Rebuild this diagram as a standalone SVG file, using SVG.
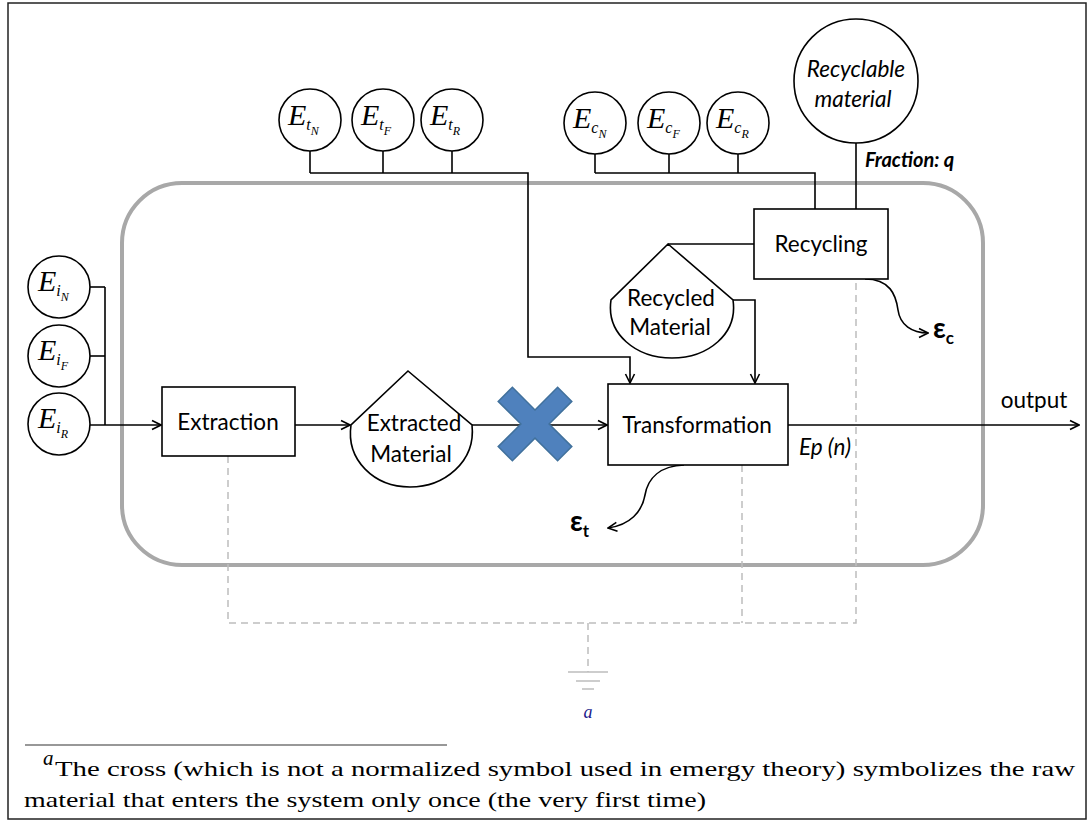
<svg xmlns="http://www.w3.org/2000/svg" width="1089" height="823" viewBox="0 0 1089 823">
<defs>
<style>
.lbl{font-family:Lato,"Open Sans","Liberation Sans",sans-serif;font-size:22.5px;fill:#000;text-anchor:middle}
.ital{font-style:italic}
.mth{font-family:"Liberation Serif","DejaVu Serif",serif;font-style:italic;fill:#000}
.ln{fill:none;stroke:#000;stroke-width:1.6}
.dash{fill:none;stroke:#bdbdbd;stroke-width:1.5;stroke-dasharray:7 5}
.node{fill:#fff;stroke:#000;stroke-width:1.6}
.eps{font-family:Lato,"Open Sans","Liberation Sans",sans-serif;font-weight:bold;fill:#000}
.foot{font-family:"Liberation Serif","DejaVu Serif",serif;font-size:21px;fill:#000}
</style>
<marker id="arr" viewBox="0 0 12 12" refX="11" refY="6" markerWidth="12" markerHeight="12" markerUnits="userSpaceOnUse" orient="auto">
<path d="M2,1.5 L11,6 L2,10.5" fill="none" stroke="#000" stroke-width="1.6"/>
</marker>
</defs>
<rect x="0" y="0" width="1089" height="823" fill="#fff"/>
<rect x="8" y="3" width="1078" height="816" fill="none" stroke="#222" stroke-width="1.5"/>
<rect id="system" x="122" y="183" width="861" height="382" rx="60" ry="60" fill="none" stroke="#a8a8a8" stroke-width="4"/>

<g id="connectors">
<line class="ln" x1="89" y1="287" x2="105" y2="287"/>
<line class="ln" x1="89" y1="356" x2="105" y2="356"/>
<line class="ln" x1="105" y1="287" x2="105" y2="425"/>
<line class="ln" x1="90" y1="425" x2="161" y2="425" marker-end="url(#arr)"/>
<line class="ln" x1="295" y1="425" x2="350" y2="425" marker-end="url(#arr)"/>
<line class="ln" x1="472" y1="425" x2="607" y2="425" marker-end="url(#arr)"/>
<line class="ln" x1="310" y1="150" x2="310" y2="173"/>
<line class="ln" x1="383" y1="150" x2="383" y2="173"/>
<line class="ln" x1="452" y1="150" x2="452" y2="173"/>
<path class="ln" d="M310,173 H528 V357 H630 V383" marker-end="url(#arr)"/>
<line class="ln" x1="595" y1="154" x2="595" y2="173"/>
<line class="ln" x1="669" y1="154" x2="669" y2="173"/>
<line class="ln" x1="738" y1="154" x2="738" y2="173"/>
<path class="ln" d="M595,173 H815 V209"/>
<line class="ln" x1="856" y1="143" x2="856" y2="209"/>
<line class="ln" x1="754" y1="244" x2="668" y2="244"/>
<path class="ln" d="M733,300 H755 V383" marker-end="url(#arr)"/>
<line class="ln" x1="788" y1="425" x2="1079" y2="425" marker-end="url(#arr)"/>
<path class="ln" d="M865,279 C890,279 896,295 898,310 C900,325 912,333 928,333" marker-end="url(#arr)"/>
<path class="ln" d="M684,465 C660,466 648,478 645,495 C642,512 630,525 608,528" marker-end="url(#arr)"/>
<path class="dash" d="M228,456 V623 H856 V279"/>
<line class="dash" x1="742" y1="465" x2="742" y2="623"/>
<line class="dash" x1="588" y1="623" x2="588" y2="672"/>
<line x1="568" y1="672" x2="608" y2="672" stroke="#bdbdbd" stroke-width="1.5"/>
<line x1="576" y1="681" x2="600" y2="681" stroke="#bdbdbd" stroke-width="1.5"/>
<line x1="582" y1="689" x2="594" y2="689" stroke="#bdbdbd" stroke-width="1.5"/>
</g>

<g id="Ei_N"><circle class="node" cx="59" cy="287" r="31"/>
<text class="mth" x="38" y="291" font-size="30">E<tspan font-size="16" dy="5">i</tspan><tspan font-size="12" dy="5">N</tspan></text></g>
<g id="Ei_F"><circle class="node" cx="59" cy="356" r="31"/>
<text class="mth" x="38" y="360" font-size="30">E<tspan font-size="16" dy="5">i</tspan><tspan font-size="12" dy="5">F</tspan></text></g>
<g id="Ei_R"><circle class="node" cx="59" cy="424" r="31"/>
<text class="mth" x="38" y="428" font-size="30">E<tspan font-size="16" dy="5">i</tspan><tspan font-size="12" dy="5">R</tspan></text></g>

<g id="Et_N"><circle class="node" cx="310" cy="120" r="31"/>
<text class="mth" x="288" y="125" font-size="30">E<tspan font-size="16" dy="5">t</tspan><tspan font-size="12" dy="5">N</tspan></text></g>
<g id="Et_F"><circle class="node" cx="383" cy="120" r="31"/>
<text class="mth" x="361" y="125" font-size="30">E<tspan font-size="16" dy="5">t</tspan><tspan font-size="12" dy="5">F</tspan></text></g>
<g id="Et_R"><circle class="node" cx="452" cy="120" r="31"/>
<text class="mth" x="430" y="125" font-size="30">E<tspan font-size="16" dy="5">t</tspan><tspan font-size="12" dy="5">R</tspan></text></g>

<g id="Ec_N"><circle class="node" cx="595" cy="123" r="31"/>
<text class="mth" x="573" y="128" font-size="30">E<tspan font-size="16" dy="5">c</tspan><tspan font-size="12" dy="5">N</tspan></text></g>
<g id="Ec_F"><circle class="node" cx="669" cy="123" r="31"/>
<text class="mth" x="647" y="128" font-size="30">E<tspan font-size="16" dy="5">c</tspan><tspan font-size="12" dy="5">F</tspan></text></g>
<g id="Ec_R"><circle class="node" cx="738" cy="123" r="31"/>
<text class="mth" x="716" y="128" font-size="30">E<tspan font-size="16" dy="5">c</tspan><tspan font-size="12" dy="5">R</tspan></text></g>

<g id="recyclable"><circle class="node" cx="856" cy="81" r="62"/>
<text class="lbl ital" x="856" y="77">Recyclable</text>
<text class="lbl ital" x="853" y="107">material</text></g>
<text id="fraction" x="865" y="167" font-family="Lato,'Open Sans','Liberation Sans',sans-serif" font-size="20" font-weight="bold" font-style="italic">Fraction: q</text>

<g id="extraction"><rect class="node" x="162" y="387" width="133" height="69"/>
<text class="lbl" x="228" y="430">Extraction</text></g>

<g id="extracted"><path class="node" d="M408,371 L472,425 C476,462 444,487 410,487 C374,487 346,460 351,425 Z"/>
<text class="lbl" x="414" y="431">Extracted</text>
<text class="lbl" x="411" y="462">Material</text></g>

<g id="cross"><polygon points="535,410 557.6,387.2 571.8,401.4 549.1,424 571.8,446.6 557.6,460.8 535,438.1 512.4,460.8 498.2,446.6 520.9,424 498.2,401.4 512.4,387.2" fill="#4f81bd" stroke="#41719c" stroke-width="1.5"/></g>

<g id="transformation"><rect class="node" x="608" y="384" width="180" height="81"/>
<text class="lbl" x="697" y="433">Transformation</text></g>

<g id="recycling"><rect class="node" x="754" y="209" width="134" height="70"/>
<text class="lbl" x="821" y="252">Recycling</text></g>

<g id="recycled"><path class="node" d="M668,244 L733,300 C738,334 708,358 672,358 C636,358 606,334 611,300 Z"/>
<text class="lbl" x="671" y="306">Recycled</text>
<text class="lbl" x="670" y="335">Material</text></g>

<text class="lbl" x="1034" y="408">output</text>
<text class="lbl ital" x="825" y="455" font-size="20">Ep (n)</text>
<text class="eps" x="933" y="338" font-size="28">ε<tspan font-size="17" dy="6">c</tspan></text>
<text class="eps" x="570" y="531" font-size="28">ε<tspan font-size="17" dy="6">t</tspan></text>

<text x="588" y="718" font-family="'Liberation Serif','DejaVu Serif',serif" font-style="italic" font-size="18" fill="#1a1a8a" text-anchor="middle">a</text>
<line x1="25" y1="745" x2="447" y2="745" stroke="#333" stroke-width="1.2"/>
<text class="foot" x="43" y="765" font-size="13" font-style="italic">a</text>
<text class="foot" x="55" y="776" textLength="1020" lengthAdjust="spacingAndGlyphs">The cross (which is not a normalized symbol used in emergy theory) symbolizes the raw</text>
<text class="foot" x="24" y="807" textLength="682" lengthAdjust="spacingAndGlyphs">material that enters the system only once (the very first time)</text>
</svg>
